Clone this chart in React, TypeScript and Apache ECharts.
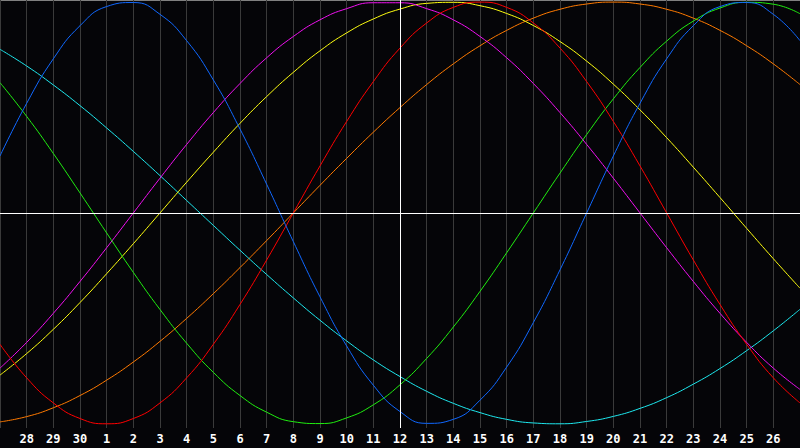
import React, { useEffect, useRef } from "react";
import * as echarts from "echarts";

// Day labels along the bottom (first and last are the plot's edges, unlabelled)
const days: string[] = [
  "27", "28", "29", "30", "1", "2", "3", "4", "5", "6", "7", "8", "9", "10", "11",
  "12", "13", "14", "15", "16", "17", "18", "19", "20", "21", "22", "23", "24", "25", "26", "27",
];

// Curve values (percent, -100..100) read at each day line
const blueValues: number[] = [
  27.0, 52.0, 73.1, 88.8, 97.9, 99.8, 94.2, 81.7, 63.1, 39.8, 13.6, -13.6, -39.8, -63.1, -81.7,
  -94.2, -99.8, -97.9, -88.8, -73.1, -52.0, -27.0, 0, 27.0, 52.0, 73.1, 88.8, 97.9, 99.8, 94.2, 81.7,
];
const redValues: number[] = [
  -62.3, -78.2, -90.1, -97.5, -100, -97.5, -90.1, -78.2, -62.3, -43.4, -22.3, 0, 22.3, 43.4, 62.3,
  78.2, 90.1, 97.5, 100, 97.5, 90.1, 78.2, 62.3, 43.4, 22.3, 0, -22.3, -43.4, -62.3, -78.2, -90.1,
];
const greenValues: number[] = [
  61.8, 45.8, 28.2, 9.5, -9.5, -28.2, -45.8, -61.8, -75.6, -86.6, -94.5, -99.0, -99.9, -97.2, -91.0,
  -81.5, -69.0, -54.1, -37.2, -18.9, 0, 18.9, 37.2, 54.1, 69.0, 81.5, 91.0, 97.2, 99.9, 99.0, 94.5,
];
const cyanValues: number[] = [
  77.6, 69.7, 60.7, 50.9, 40.3, 29.2, 17.7, 5.9, -5.9, -17.7, -29.2, -40.3, -50.9, -60.7, -69.7,
  -77.6, -84.6, -90.3, -94.7, -97.9, -99.6, -100.0, -98.9, -96.5, -92.7, -87.6, -81.2, -73.8, -65.3, -55.9, -45.7,
];
const magentaValues: number[] = [
  -73.6, -61.4, -47.6, -32.5, -16.5, 0, 16.5, 32.5, 47.6, 61.4, 73.6, 83.7, 91.6, 96.9, 99.7,
  99.7, 96.9, 91.6, 83.7, 73.6, 61.4, 47.6, 32.5, 16.5, 0, -16.5, -32.5, -47.6, -61.4, -73.6, -83.7,
];
const yellowValues: number[] = [
  -76.9, -66.7, -55.2, -42.5, -28.8, -14.6, 0, 14.6, 28.8, 42.5, 55.2, 66.7, 76.9, 85.4, 92.0,
  96.7, 99.4, 99.9, 98.3, 94.6, 88.9, 81.3, 72.0, 61.1, 48.9, 35.7, 21.7, 7.3, -7.3, -21.7, -35.7,
];
const orangeValues: number[] = [
  -99.1, -96.6, -92.4, -86.6, -79.3, -70.7, -60.9, -50.0, -38.3, -25.9, -13.1, 0, 13.1, 25.9, 38.3,
  50.0, 60.9, 70.7, 79.3, 86.6, 92.4, 96.6, 99.1, 100, 99.1, 96.6, 92.4, 86.6, 79.3, 70.7, 60.9,
];

const todayLabel = "12";

export default function App() {
  const ref = useRef<HTMLDivElement>(null);

  useEffect(() => {
    if (!ref.current) return;
    const chart = echarts.init(ref.current, undefined, { renderer: "svg" });

    const mk = (name: string, data: number[], color: string, extra: any = {}) => ({
      name,
      type: "line",
      data,
      smooth: true,
      symbol: "none",
      showSymbol: false,
      silent: true,
      lineStyle: { color, width: 1 },
      ...extra,
    });

    chart.setOption({
      animation: false,
      backgroundColor: "#050508",
      grid: { left: 0, right: 0, top: 0, height: 428, containLabel: false },
      xAxis: {
        type: "category",
        data: days,
        boundaryGap: false,
        axisLine: { show: true, lineStyle: { color: "#9a9a9a", width: 1 } },
        axisTick: { show: false },
        splitLine: { show: true, interval: 0, lineStyle: { color: "#3a3a3a", width: 1 } },
        axisLabel: {
          interval: (i: number) => i > 0 && i < days.length - 1,
          color: "#ffffff",
          fontFamily: "DejaVu Sans Mono",
          fontWeight: "bold",
          fontSize: 12,
          margin: 5,
        },
      },
      yAxis: {
        type: "value",
        min: -102,
        max: 101,
        axisLine: { show: false },
        axisTick: { show: false },
        axisLabel: { show: false },
        splitLine: { show: false },
      },
      graphic: [
        { type: "line", shape: { x1: 0, y1: 0.5, x2: 800, y2: 0.5 }, style: { stroke: "#808080", lineWidth: 1 }, silent: true },
        { type: "line", shape: { x1: 0.5, y1: 0, x2: 0.5, y2: 428 }, style: { stroke: "#808080", lineWidth: 1 }, silent: true },
      ],
      series: [
        mk("orange", orangeValues, "#ff7a00", {
          markLine: {
            silent: true,
            symbol: "none",
            label: { show: false },
            lineStyle: { color: "#ffffff", width: 1, type: "solid" },
            data: [{ yAxis: 0 }, { xAxis: todayLabel }],
          },
        }),
        mk("cyan", cyanValues, "#1ee8ee"),
        mk("yellow", yellowValues, "#ffff10"),
        mk("magenta", magentaValues, "#f010f0"),
        mk("green", greenValues, "#20ee10"),
        mk("red", redValues, "#ff0000"),
        mk("blue", blueValues, "#1068ff"),
      ],
    });

    return () => chart.dispose();
  }, []);

  return (
    <div
      ref={ref}
      style={{ position: "fixed", left: 0, top: 0, width: 800, height: 448 }}
    />
  );
}
